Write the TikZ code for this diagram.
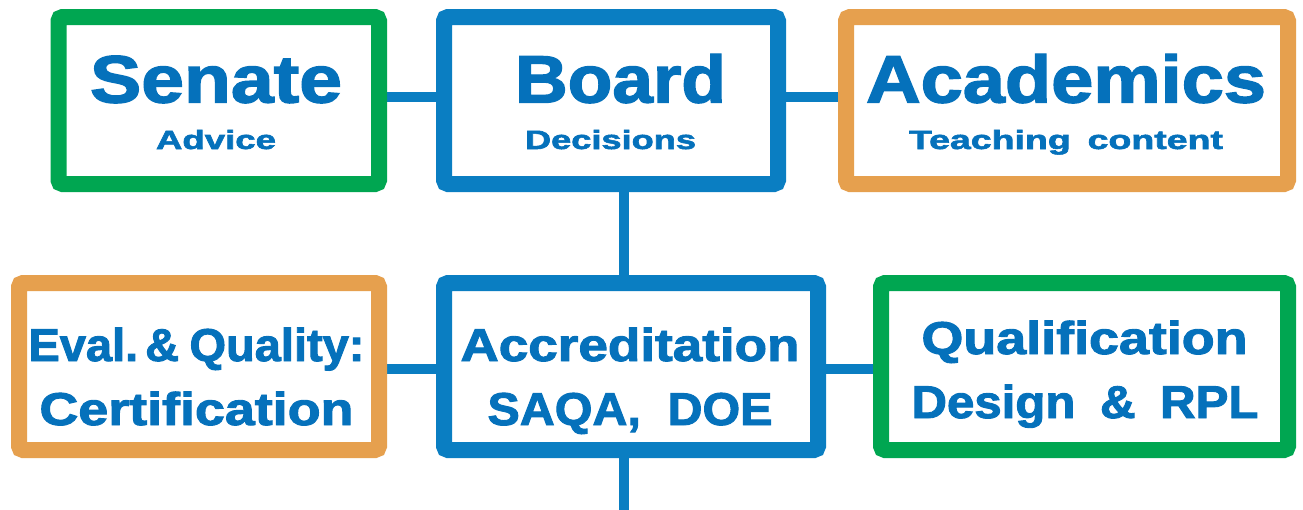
\documentclass[tikz,border=0pt]{standalone}
\usepackage{fontspec}
\setmainfont{Liberation Sans}[BoldFeatures={FakeBold=2}]
\usetikzlibrary{backgrounds}
\definecolor{bblue}{HTML}{0A7EC2}
\definecolor{tblue}{HTML}{0571BB}
\definecolor{bgreen}{HTML}{00A651}
\definecolor{borange}{HTML}{E6A04E}
\newcommand{\fitword}[3]{\resizebox{#1pt}{\height}{\fontsize{#2}{#2}\selectfont\bfseries #3}}
\begin{document}
\begin{tikzpicture}[x=1pt,y=-1pt,
  box/.style={draw=#1, line width=16pt, rounded corners=4pt, inner sep=0pt, outer sep=0pt, fill=white, minimum height=167pt},
  conn/.style={draw=bblue, line width=10pt},
  lbl/.style={text=tblue, inner sep=0pt, outer sep=0pt, anchor=base}]
\useasboundingbox (0,0) rectangle (1303,509);
% boxes
\node[box=bgreen, minimum width=320.5pt] (senate) at (218.75,100.5) {};
\node[box=bblue, minimum width=334pt] (board) at (611,100.5) {};
\node[box=borange, minimum width=442pt] (acad) at (1067,100.5) {};
\node[box=borange, minimum width=360pt] (eval) at (199,366.5) {};
\node[box=bblue, minimum width=374pt] (accr) at (631,366.5) {};
\node[box=bgreen, minimum width=407pt] (qual) at (1084.5,366.5) {};
\coordinate (bottomend) at (624,512);
% connectors
\begin{scope}[on background layer]
\fill[white] (0,0) rectangle (1303,509);
\draw[conn] ([yshift=3.5pt]senate.east) -- ([yshift=3.5pt]board.west);
\draw[conn] ([yshift=3.5pt]board.east) -- ([yshift=3.5pt]acad.west);
\draw[conn] ([xshift=13pt]board.south) -- ([xshift=13pt]board.south |- accr.north);
\draw[conn] ([yshift=-2.5pt]eval.east) -- ([yshift=-2.5pt]accr.west);
\draw[conn] ([yshift=-2.5pt]accr.east) -- ([yshift=-2.5pt]qual.west);
\draw[conn] (bottomend |- accr.south) -- (bottomend);
\end{scope}
% labels
\node[lbl] (t1) at (216,102.5) {\fitword{252}{67}{Senate}};
\node[lbl] (t2) at (216,149) {\fitword{120}{26.5}{Advice}};
\node[lbl] (t3) at (620.5,102.5) {\fitword{211}{67}{Board}};
\node[lbl] (t4) at (610.5,149) {\fitword{171}{26.5}{Decisions}};
\node[lbl] (t5) at (1066,102.5) {\fitword{400}{67}{Academics}};
\node[lbl] (t6) at (1066,149) {\fitword{314}{26.5}{Teaching\hspace{0.45em}content}};
\node[lbl] (t7) at (196.5,361) {\fitword{336}{46}{Eval.\hspace{0.15em}\&\hspace{0.22em}Quality:}};
\node[lbl] (t8) at (196.5,425) {\fitword{314}{46}{Certification}};
\node[lbl] (t9) at (630,361) {\fitword{339}{46}{Accreditation}};
\node[lbl] (t10) at (630,425) {\fitword{285}{46}{SAQA,\hspace{0.55em}DOE}};
\node[lbl] (t11) at (1084.5,354) {\fitword{326}{46}{Qualification}};
\node[lbl] (t12) at (1085,418) {\fitword{347}{46}{Design\hspace{0.5em}\&\hspace{0.5em}RPL}};
\end{tikzpicture}
\end{document}
